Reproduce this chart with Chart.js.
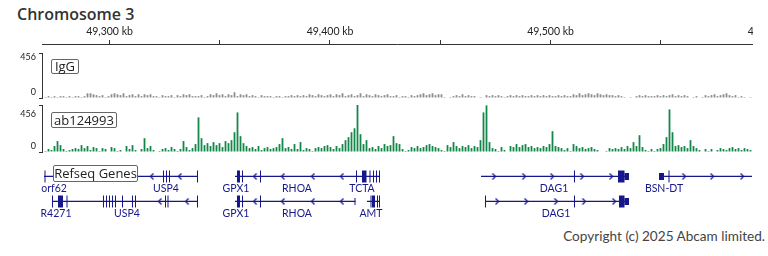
<!DOCTYPE html>
<html><head><meta charset="utf-8">
<script src="https://cdn.jsdelivr.net/npm/chart.js@4"></script>
<style>
html,body{margin:0;padding:0;background:#fff;width:768px;height:256px;overflow:hidden;}
body{position:relative;}
canvas{position:absolute;left:0;}
.title{position:absolute;left:17px;top:3px;font:600 16px "Open Sans",sans-serif;color:#333;white-space:nowrap;}
.box{position:absolute;box-sizing:border-box;border:1px solid #666;border-radius:2px;background:#fff;color:#222;font:13px "Open Sans",sans-serif;text-align:center;white-space:nowrap;}
.copy{position:absolute;right:3px;top:228px;font:13.6px Lato,sans-serif;color:#444;white-space:nowrap;}
</style></head><body>
<div class="title">Chromosome 3</div>
<canvas id="axis" width="753" height="46" style="top:0"></canvas>
<canvas id="igg" width="768" height="52" style="top:50px"></canvas>
<canvas id="ab" width="768" height="54" style="top:102px"></canvas>
<canvas id="genes" width="768" height="65" style="top:160px"></canvas>
<div class="box" style="left:51px;top:59px;width:28px;height:15px;line-height:13px">IgG</div>
<div class="box" style="left:51px;top:112px;width:66px;height:16px;line-height:14px">ab124993</div>
<div class="box" style="left:53px;top:165px;width:85px;height:17px;line-height:15px">Refseq Genes</div>
<div class="copy">Copyright (c) 2025 Abcam limited.</div>
<script>
// ---- data ----
const xMinKb = 49269.39, xMaxKb = 49591.38;
const binStartKb = 49270.30, binKb = 1.3605;
const tickKb = [49300, 49350, 49400, 49450, 49500, 49550, 49600];
const labeledTickKb = [49300, 49400, 49500, 49600];
const trackMax = 456;
const rangeTicks = [0, 456];

const iggValues = [10,19,10,19,10,19,19,10,
19,10,19,19,10,19,
48,48,38,29,
19,29,10,19,
38,48,38,29,48,19,
29,38,19,38,19,
38,29,38,19,
19,10,29,19,
19,29,10,29,19,
38,29,38,19,
19,19,29,10,19,
38,29,48,29,38,19,38,29,
58,19,38,
29,38,19,29,
19,10,29,19,19,
19,10,19,19,10,19,
19,29,19,29,19,
29,19,38,29,19,38,29,19,29,38,19,
38,29,48,19,29,38,19,29,48,19,38,29,19,38,29,19,
29,38,19,19,29,10,19,
19,10,29,19,
29,38,48,29,38,48,29,
38,38,10,0,10,
19,29,19,38,19,29,19,19,
0,10,0,
29,19,29,19,
29,19,10,19,29,19,29,
19,29,19,19,29,
19,29,19,29,19,29,19,19,29,19,29,19,19,
38,29,48,29,38,48,38,29,48,38,29,38,29,
29,19,29,19,10,
0,10,0,19,
29,19,29,19,19,
19,29,19,29,19,29,38,19,29,19,29,
19,0,10,19,0,10,29,19,29,38,19,29,38,48,29,19,29,10,19,10,0,10];

const abValues = [10,29,19,58,106,67,29,10,19,29,
38,29,67,38,58,19,48,38,10,38,
29,0,48,38,10,19,0,58,29,67,
19,0,29,134,38,58,19,0,10,29,
38,19,48,29,10,29,106,48,19,38,
77,336,134,67,86,58,96,67,86,48,
106,86,115,192,384,154,86,58,38,48,
29,58,19,38,48,29,38,48,77,134,
38,48,29,77,29,96,19,38,29,10,
38,48,38,58,67,48,29,58,38,77,
115,144,192,230,456,173,77,115,38,48,
29,58,38,77,58,67,154,86,77,29,
10,19,48,38,58,38,48,67,77,58,
48,38,19,10,67,48,96,58,38,58,
48,67,38,58,48,115,384,452,96,38,
29,10,48,19,0,58,48,77,48,67,
77,48,58,38,48,38,58,48,77,202,
58,48,38,19,38,10,77,58,38,48,
29,38,48,29,19,0,0,10,38,29,
38,29,48,29,58,38,96,58,163,48,
19,10,29,10,29,38,77,144,413,192,
58,67,48,58,38,115,58,38,19,0,
29,10,29,0,19,38,29,19,38,48,
29,38,19,38,29,19];

const geneRow     = [0, 0, 0, 0, 1, 1, 1, 1];
const geneStartKb = [49270.30, 49356.92, 49468.48, 49549.21, 49273.92, 49356.92, 49416.78, 49470.29];
const geneEndKb   = [49340.14, 49422.67, 49535.60, 49591.83, 49340.14, 49411.56, 49422.67, 49535.60];

const exonRow = [0,0,0,0,0,0, 0,0,0,0,0,0, 0,0,0,0,0,0,0, 0,0,0,0, 0,0,
  1,1,1,1,1,1,1,1,1,1,1,1,1,1,1,1,1,1,1,1, 1,1,1,1,1,1, 1,1,1,1,1, 1,1,1,1];
const exonStartKb = [49270.52,49324.26,49325.62,49326.98,49335.15,49339.68,
  49356.92,49357.82,49360.09,49368.25,49375.06,49407.71,
  49411.79,49412.70,49414.51,49417.91,49419.50,49420.86,49422.22,
  49468.48,49510.65,49530.61,49533.56, 49549.21,49553.51,
  49273.92,49276.64,49280.50,49283.45,49284.81,49292.52,49293.88,49297.05,49298.41,49299.77,49301.13,49302.49,49305.67,49310.20,49311.56,49325.17,49326.30,49327.44,49336.51,49339.68,
  49356.92,49357.82,49360.09,49368.25,49375.06,49411.11,
  49416.78,49418.37,49419.05,49421.31,49422.22,
  49470.29,49510.65,49531.06,49533.56];
const exonEndKb = [49270.98,49324.72,49326.08,49327.44,49335.60,49340.14,
  49357.37,49359.18,49360.54,49368.71,49375.51,49408.16,
  49412.24,49413.15,49416.55,49418.37,49419.95,49421.31,49422.67,
  49468.93,49511.11,49533.56,49535.60, 49551.47,49553.97,
  49274.38,49278.91,49280.95,49283.90,49285.26,49292.97,49294.33,49297.51,49298.87,49300.23,49301.59,49302.95,49306.12,49310.66,49312.02,49325.62,49326.76,49327.89,49336.96,49340.14,
  49357.37,49359.18,49360.54,49368.71,49375.51,49411.56,
  49417.23,49418.82,49420.41,49421.77,49422.67,
  49470.75,49511.11,49533.56,49535.60];
const exonKind = ['c','c','c','c','c','c', 'c','c','c','c','c','c', 'c','c','c','c','c','c','c', 'c','c','c','u', 'u','c',
  'c','c','c','c','c','c','c','c','c','c','c','c','c','c','c','c','c','c','c','c',
  'c','c','c','c','c','u', 'c','c','c','c','c', 'c','c','c','u'];

const arrowRow = [0,0,0,0,0,0, 0,0,0,0,0,0,0,0, 1,1,1,1,1,1, 1,1,1,1,1];
const arrowKb  = [49319.27,49331.97,49365.99,49378.68,49392.29,49405.44,
  49474.37,49487.98,49500.68,49514.28,49527.44,49560.54,49573.24,49586.85,
  49322.90,49335.15,49365.99,49378.68,49392.29,49405.44,
  49475.74,49488.89,49502.49,49515.19,49528.80];
const arrowDir = [-1,-1,-1,-1,-1,-1, 1,1,1,1,1,1,1,1, -1,-1,-1,-1,-1,-1, 1,1,1,1,1];

const labelText = ['orf62','USP4','GPX1','RHOA','TCTA','DAG1','BSN-DT','R4271','USP4','GPX1','RHOA','AMT','DAG1'];
const labelKb   = [49274.83,49325.62,49357.37,49385.03,49414.51,49501.58,49551.47,49275.74,49307.94,49357.37,49385.03,49418.59,49502.49];
const labelRow  = [0,0,0,0,0,0,0,1,1,1,1,1,1];

// ---- styles ----
const geneColor = '#17178c';
const rowY = [13.5, 43];
const labelDy = 14;
const common = {responsive:false, animation:false, devicePixelRatio:1, events:[]};

// top ruler
new Chart(document.getElementById('axis'), {
  type:'line', data:{datasets:[{data:[]}]},
  options:{...common,
    layout:{padding:{left:42,right:1,top:0,bottom:0}},
    plugins:{legend:{display:false},tooltip:{enabled:false}},
    scales:{
      x:{type:'linear', position:'top', min:xMinKb, max:xMaxKb,
        afterBuildTicks:s=>{s.ticks = tickKb.map(v=>({value:v}));},
        afterFit:s=>{s.height=44; s.paddingLeft=0; s.paddingRight=0;},
        ticks:{autoSkip:false, maxRotation:0, padding:2, color:'#222', font:{family:'Lato', size:10.5},
          callback:v=>labeledTickKb.includes(v) ? v.toLocaleString('en-US')+' kb' : ''},
        grid:{drawOnChartArea:false, drawTicks:true, tickLength:4, color:'#333'},
        border:{display:true, color:'#333', width:1}},
      y:{display:false}
    }}
});

const rangeLabelPlugin = {
  id:'rangeLabels',
  afterDraw(chart, args, opts){
    const {ctx} = chart; const y = chart.scales.y;
    ctx.save(); ctx.font='9px Lato'; ctx.fillStyle='#222'; ctx.textAlign='right'; ctx.textBaseline='middle';
    ctx.fillText(String(rangeTicks[1]), 36, y.getPixelForValue(rangeTicks[1]) + opts.topDy);
    ctx.fillText(String(rangeTicks[0]), 36, y.getPixelForValue(rangeTicks[0]) + opts.bottomDy);
    ctx.restore();
  }
};

function track(id, values, color, topDy){
  return new Chart(document.getElementById(id), {
    type:'bar',
    data:{datasets:[{data: values.map((v,i)=>({x: binStartKb + (i+0.5)*binKb, y: v})),
      backgroundColor:color, borderWidth:0, categoryPercentage:1, barPercentage:0.6}]},
    options:{...common,
      layout:{padding:{left:0,right:16,top:3,bottom:4}},
      plugins:{legend:{display:false},tooltip:{enabled:false}, rangeLabels:{topDy:topDy, bottomDy:-6}},
      scales:{
        x:{type:'linear', min:xMinKb, max:xMaxKb, offset:false, display:false},
        y:{min:0, max:trackMax,
          afterBuildTicks:s=>{s.ticks = rangeTicks.map(v=>({value:v}));},
          afterFit:s=>{s.width=42; s.paddingTop=0; s.paddingBottom=0;},
          ticks:{display:false},
          grid:{drawOnChartArea:false, drawTicks:true, tickLength:3, color:'#333'},
          border:{display:true, color:'#333', width:1}}
      }},
    plugins:[rangeLabelPlugin]
  });
}
track('igg', iggValues, '#8c8c8c', 4);
track('ab', abValues, '#13874a', 9);

// genes
function segs(starts, ends, rows, filter){
  const out = [];
  starts.forEach((s,i)=>{
    if (filter && !filter(i)) return;
    out.push({x:s, y:rowY[rows[i]]}, {x:ends[i], y:rowY[rows[i]]}, {x:ends[i], y:null});
  });
  return out;
}
function chevron(dir){
  const c = document.createElement('canvas'); c.width=5; c.height=7;
  const g = c.getContext('2d'); g.strokeStyle=geneColor; g.lineWidth=1.2; g.beginPath();
  if (dir>0){ g.moveTo(1,0.5); g.lineTo(4,3.5); g.lineTo(1,6.5);} else { g.moveTo(4,0.5); g.lineTo(1,3.5); g.lineTo(4,6.5);}
  g.stroke(); return c;
}
const arrowPts = d => arrowKb.map((k,i)=>arrowDir[i]===d ? {x:k, y:rowY[arrowRow[i]]} : null).filter(p=>p);
const lineDs = (data, w) => ({type:'line', data, borderColor:geneColor, borderWidth:w, borderCapStyle:'butt',
  pointRadius:0, spanGaps:false, fill:false, tension:0});
const geneLabelPlugin = {
  id:'geneLabels',
  afterDatasetsDraw(chart){
    const {ctx} = chart; const x = chart.scales.x, y = chart.scales.y;
    ctx.save(); ctx.font='10.5px Lato'; ctx.fillStyle=geneColor; ctx.textAlign='center'; ctx.textBaseline='middle';
    labelText.forEach((t,i)=>ctx.fillText(t, x.getPixelForValue(labelKb[i]), y.getPixelForValue(rowY[labelRow[i]] + labelDy)));
    ctx.restore();
  }
};
new Chart(document.getElementById('genes'), {
  type:'line',
  data:{datasets:[
    lineDs(segs(geneStartKb, geneEndKb, geneRow), 1.3),
    lineDs(segs(exonStartKb, exonEndKb, exonRow, i=>exonKind[i]==='c'), 12),
    lineDs(segs(exonStartKb, exonEndKb, exonRow, i=>exonKind[i]==='u'), 7),
    {type:'line', data:arrowPts(1), showLine:false, pointStyle:chevron(1), pointRadius:3},
    {type:'line', data:arrowPts(-1), showLine:false, pointStyle:chevron(-1), pointRadius:3}
  ]},
  options:{...common,
    layout:{padding:{left:42,right:16,top:0,bottom:0}},
    plugins:{legend:{display:false},tooltip:{enabled:false}},
    scales:{
      x:{type:'linear', min:xMinKb, max:xMaxKb, display:false},
      y:{min:0, max:65, reverse:true, display:false}
    }},
  plugins:[geneLabelPlugin]
});
</script>
</body></html>
